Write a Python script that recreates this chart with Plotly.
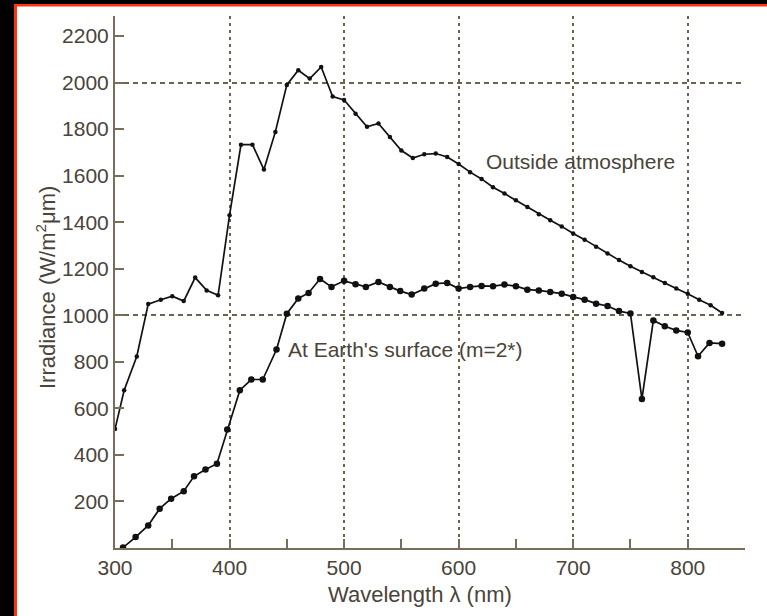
import plotly.graph_objects as go

# ---- data ----
outside_wl = [300, 308, 319, 329, 340, 350, 360, 370, 380, 390, 400, 410, 420, 430, 440,
              450, 460, 470, 480, 490, 500, 510, 520, 530, 540, 550, 560, 570, 580, 590,
              600, 610, 620, 630, 640, 650, 660, 670, 680, 690, 700, 710, 720, 730, 740,
              750, 760, 770, 780, 790, 800, 810, 820, 830]
outside_irr = [511, 678, 823, 1048, 1067, 1082, 1061, 1162, 1107, 1086, 1430, 1733, 1733, 1626, 1788,
               1990, 2053, 2017, 2067, 1940, 1925, 1866, 1810, 1824, 1766, 1708, 1676, 1692, 1695, 1680,
               1650, 1615, 1586, 1550, 1523, 1494, 1465, 1434, 1408, 1382, 1351, 1325, 1295, 1266, 1237,
               1211, 1186, 1163, 1139, 1115, 1093, 1067, 1043, 1010]

surface_wl = [307, 318, 329, 339, 349, 360, 369, 379, 389, 398, 409, 419, 429, 441,
              450, 460, 469, 479, 489, 500, 510, 519, 530, 540, 549, 559, 570, 580, 590,
              600, 610, 620, 630, 640, 650, 660, 670, 680, 690, 700, 710, 720, 730, 740,
              750, 760, 770, 780, 790, 800, 809, 819, 830]
surface_irr = [2, 47, 97, 169, 212, 244, 308, 337, 362, 509, 678, 724, 724, 853,
               1007, 1072, 1096, 1156, 1122, 1148, 1133, 1122, 1143, 1122, 1104, 1089, 1115, 1136, 1139,
               1115, 1122, 1126, 1125, 1132, 1125, 1110, 1107, 1100, 1093, 1079, 1067, 1050, 1040, 1018,
               1008, 640, 978, 953, 935, 926, 824, 881, 878]

x_tick_vals = [300, 400, 500, 600, 700, 800]
x_tick_text = ["300", "400", "500", "600", "700", "800"]
y_tick_vals = [200, 400, 600, 800, 1000, 1200, 1400, 1600, 1800, 2000, 2200]
y_tick_text = ["200", "400", "600", "800", "1000", "1200", "1400", "1600", "1800", "2000", "2200"]
y_grid_vals = [1000, 2000]

label_outside = "Outside atmosphere"
label_surface = "At Earth's surface (m=2*)"

# ---- style ----
AXIS_C = "#7a6e5a"
GRID_C = "#6e634f"
TEXT_C = "#4a443a"
FONT = "Liberation Sans, Arial, sans-serif"

fig = go.Figure()
for wl, irr, msize in [(outside_wl, outside_irr, 4.5), (surface_wl, surface_irr, 6.5)]:
    fig.add_trace(go.Scatter(
        x=wl, y=irr, mode="lines+markers",
        line=dict(color="#111111", width=1.7),
        marker=dict(color="#111111", size=msize),
        showlegend=False, hoverinfo="skip",
    ))

W, H = 767, 616
L, R, T, B = 115, 22, 16, 68
pw, ph = W - L - R, H - T - B

def px_x(p):
    return (p - L) / pw

def px_y(p):
    return (H - B - p) / ph

shapes = [
    # black left strip & top strip
    dict(type="rect", xref="paper", yref="paper", x0=px_x(0), x1=px_x(14), y0=px_y(616), y1=px_y(0),
         fillcolor="black", line=dict(width=0), layer="above"),
    dict(type="rect", xref="paper", yref="paper", x0=px_x(0), x1=px_x(767), y0=px_y(4), y1=px_y(0),
         fillcolor="black", line=dict(width=0), layer="above"),
    # red border lines
    dict(type="rect", xref="paper", yref="paper", x0=px_x(14), x1=px_x(17), y0=px_y(616), y1=px_y(4),
         fillcolor="#ff3311", line=dict(width=0), layer="above"),
    dict(type="rect", xref="paper", yref="paper", x0=px_x(14), x1=px_x(767), y0=px_y(6.5), y1=px_y(4),
         fillcolor="#ff3311", line=dict(width=0), layer="above"),
]

fig.update_layout(
    width=W, height=H,
    margin=dict(l=L, r=R, t=T, b=B, pad=0),
    paper_bgcolor="white", plot_bgcolor="white",
    font=dict(family=FONT, size=21, color=TEXT_C),
    shapes=shapes,
    xaxis=dict(
        range=[300, 850], tickmode="array", tickvals=x_tick_vals, ticktext=x_tick_text,
        showline=True, linecolor=AXIS_C, linewidth=2, mirror=False,
        ticks="inside", ticklen=9, tickwidth=2, tickcolor=AXIS_C,
        showgrid=True, gridcolor=GRID_C, gridwidth=1.6, griddash="3px,4px",
        zeroline=False, tickfont=dict(size=21, color=TEXT_C),
        minor=dict(tickmode="array", tickvals=[350, 450, 550, 650, 750, 850], ticks="inside",
                   ticklen=9, tickwidth=2, tickcolor=AXIS_C, showgrid=False),
    ),
    yaxis=dict(
        range=[0, 2286], tickmode="array", tickvals=y_tick_vals, ticktext=y_tick_text,
        showline=True, linecolor=AXIS_C, linewidth=2,
        ticks="inside", ticklen=9, tickwidth=2, tickcolor=AXIS_C,
        showgrid=False, zeroline=False, tickfont=dict(size=21, color=TEXT_C),
        minor=dict(tickmode="array", tickvals=y_grid_vals, ticks="", showgrid=True,
                   gridcolor=GRID_C, gridwidth=2, griddash="5px,4px"),
    ),
    annotations=[
        dict(text=label_outside, x=622, y=1662, xref="x", yref="y", xanchor="left",
             yanchor="middle", showarrow=False, font=dict(size=21, color=TEXT_C)),
        dict(text=label_surface, x=449, y=854, xref="x", yref="y", xanchor="left",
             yanchor="middle", showarrow=False, font=dict(size=21, color=TEXT_C)),
        dict(text="Wavelength λ (nm)", x=px_x(420), y=px_y(594), xref="paper", yref="paper",
             xanchor="center", yanchor="middle", showarrow=False, font=dict(size=22, color=TEXT_C)),
        dict(text="Irradiance (W/m<sup>2</sup>μm)", x=px_x(46), y=px_y(288), xref="paper", yref="paper",
             xanchor="center", yanchor="middle", textangle=-90, showarrow=False,
             font=dict(size=22, color=TEXT_C)),
    ],
)

fig.write_html("out.html")
